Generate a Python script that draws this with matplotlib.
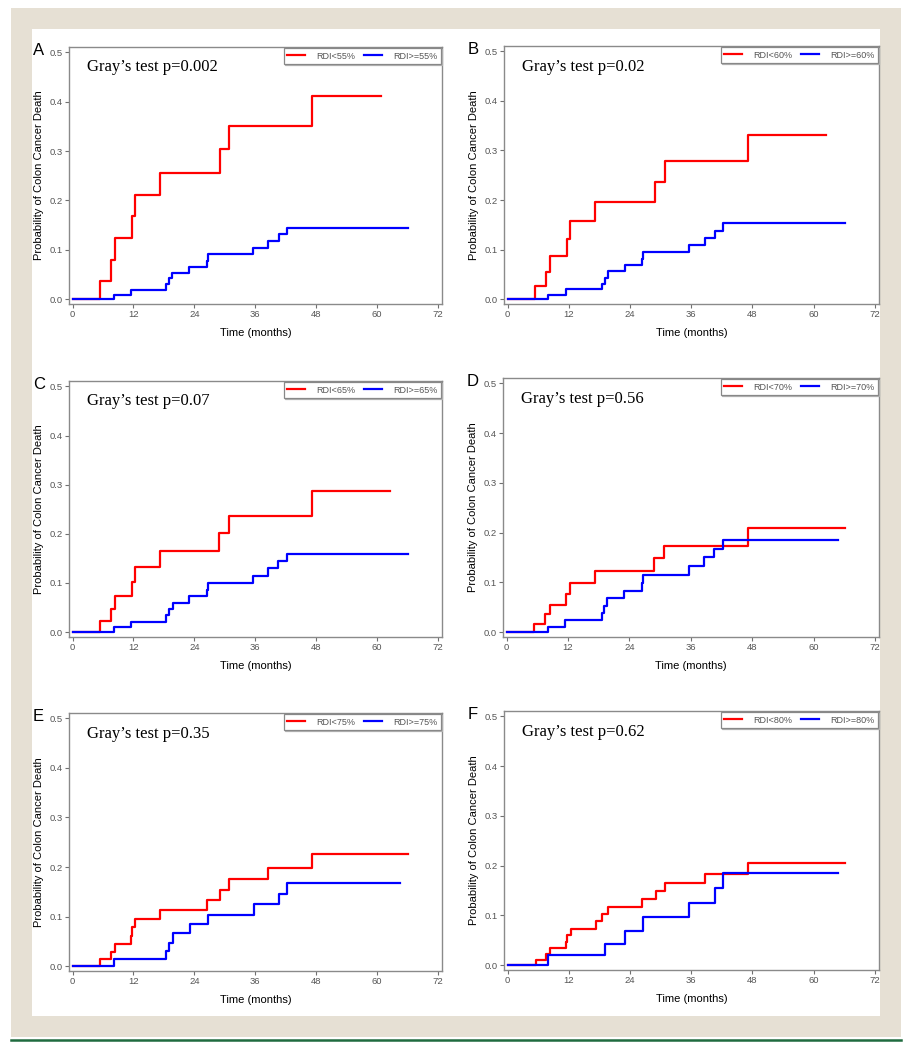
import matplotlib
matplotlib.use("Agg")
import matplotlib.pyplot as plt
from matplotlib.patches import Rectangle
from matplotlib.lines import Line2D

# time (months) at each step, cumulative incidence after the step; last entry = end of follow-up
a_red_t = [0, 5.5, 7.5, 8.4, 11.8, 12.4, 17.3, 29.0, 30.8, 47.1, 60.8]
a_red_p = [0, 0.036, 0.080, 0.124, 0.168, 0.211, 0.256, 0.304, 0.351, 0.411, 0.411]
a_blue_t = [0, 8.1, 11.6, 18.5, 19.0, 19.6, 23.0, 26.5, 26.6, 35.6, 38.6, 40.6, 42.3, 66.1]
a_blue_p = [0, 0.008, 0.019, 0.030, 0.042, 0.053, 0.064, 0.078, 0.091, 0.103, 0.117, 0.131, 0.145, 0.145]

b_red_t = [0, 5.4, 7.5, 8.3, 11.7, 12.3, 17.2, 28.9, 30.8, 47.2, 62.5]
b_red_p = [0, 0.026, 0.055, 0.087, 0.122, 0.158, 0.196, 0.237, 0.278, 0.331, 0.331]
b_blue_t = [0, 8.0, 11.5, 18.5, 19.0, 19.7, 23.0, 26.4, 26.6, 35.6, 38.6, 40.6, 42.3, 66.1]
b_blue_p = [0, 0.009, 0.020, 0.031, 0.043, 0.056, 0.069, 0.081, 0.095, 0.110, 0.124, 0.138, 0.153, 0.153]

c_red_t = [0, 5.5, 7.5, 8.4, 11.8, 12.4, 17.3, 28.9, 30.9, 47.1, 62.5]
c_red_p = [0, 0.022, 0.047, 0.073, 0.102, 0.132, 0.165, 0.201, 0.236, 0.288, 0.288]
c_blue_t = [0, 8.1, 11.5, 18.5, 19.1, 19.7, 23.0, 26.4, 26.6, 35.6, 38.6, 40.5, 42.3, 66.1]
c_blue_p = [0, 0.011, 0.021, 0.034, 0.047, 0.059, 0.073, 0.086, 0.100, 0.115, 0.130, 0.145, 0.159, 0.159]

d_red_t = [0, 5.4, 7.5, 8.4, 11.7, 12.3, 17.2, 28.9, 30.8, 47.2, 66.2]
d_red_p = [0, 0.017, 0.036, 0.055, 0.076, 0.098, 0.123, 0.148, 0.174, 0.209, 0.209]
d_blue_t = [0, 8.0, 11.5, 18.6, 19.1, 19.7, 23.0, 26.4, 26.6, 35.6, 38.6, 40.6, 42.3, 64.7]
d_blue_p = [0, 0.011, 0.025, 0.039, 0.053, 0.068, 0.083, 0.099, 0.114, 0.132, 0.150, 0.168, 0.185, 0.185]

e_red_t = [0, 5.5, 7.5, 8.4, 11.5, 11.8, 12.4, 17.3, 26.5, 29.0, 30.9, 38.5, 47.2, 66.1]
e_red_p = [0, 0.014, 0.028, 0.044, 0.061, 0.078, 0.094, 0.113, 0.133, 0.153, 0.175, 0.199, 0.226, 0.226]
e_blue_t = [0, 8.1, 18.5, 19.0, 19.7, 23.1, 26.7, 35.7, 40.6, 42.3, 64.6]
e_blue_p = [0, 0.015, 0.030, 0.047, 0.066, 0.085, 0.104, 0.125, 0.146, 0.167, 0.167]

f_red_t = [0, 5.5, 7.5, 8.3, 11.5, 11.7, 12.4, 17.3, 18.6, 19.7, 26.4, 29.0, 30.8, 38.7, 47.2, 66.2]
f_red_p = [0, 0.010, 0.022, 0.035, 0.047, 0.060, 0.073, 0.088, 0.102, 0.116, 0.133, 0.149, 0.165, 0.183, 0.205, 0.205]
f_blue_t = [0, 8.0, 19.1, 23.0, 26.6, 35.6, 40.6, 42.3, 64.7]
f_blue_p = [0, 0.020, 0.043, 0.069, 0.096, 0.125, 0.154, 0.186, 0.186]

letters = ["A", "B", "C", "D", "E", "F"]
cutoffs = [55, 60, 65, 70, 75, 80]
p_values = ["0.002", "0.02", "0.07", "0.56", "0.35", "0.62"]
x_ticks = [0, 12, 24, 36, 48, 60, 72]
y_ticks = [0.0, 0.1, 0.2, 0.3, 0.4, 0.5]

curves = [
    (a_red_t, a_red_p, a_blue_t, a_blue_p),
    (b_red_t, b_red_p, b_blue_t, b_blue_p),
    (c_red_t, c_red_p, c_blue_t, c_blue_p),
    (d_red_t, d_red_p, d_blue_t, d_blue_p),
    (e_red_t, e_red_p, e_blue_t, e_blue_p),
    (f_red_t, f_red_p, f_blue_t, f_blue_p),
]

W, H = 913, 1050
fig = plt.figure(figsize=(W / 100, H / 100), dpi=100)
fig.patch.set_facecolor("white")

def px_rect(x0, y0, x1, y1, color, z=-10):
    r = Rectangle((x0 / W, 1 - y1 / H), (x1 - x0) / W, (y1 - y0) / H,
                  transform=fig.transFigure, facecolor=color, edgecolor="none", zorder=z)
    fig.patches.append(r)

# page frame
px_rect(11, 8, 901, 1037, "#e6e0d4", -20)
px_rect(32, 29, 880, 1016, "white", -15)
fig.lines.append(Line2D([11 / W, 901 / W], [1 - 1039.5 / H] * 2, transform=fig.transFigure,
                        color="#1f6b3f", lw=1.8, zorder=-10))

# axes boxes in pixels: left, top, right, bottom
boxes = [
    (69, 47, 442, 304), (504, 46, 879, 304),
    (69, 381, 442, 637), (503, 378, 879, 637),
    (69, 713, 442, 971), (504, 711, 879, 970),
]

sans = "Liberation Sans"
gray = "#707070"

for i, (l, t, r, b) in enumerate(boxes):
    ax = fig.add_axes([l / W, 1 - b / H, (r - l) / W, (b - t) / H])
    rt, rp, bt, bp = curves[i]
    ax.step(rt, rp, where="post", color="#ff0000", lw=1.6, label=f"RDI<{cutoffs[i]}%")
    ax.step(bt, bp, where="post", color="#0000ff", lw=1.6, label=f"RDI>={cutoffs[i]}%")
    ax.set_xlim(-0.7, 72.8)
    ax.set_ylim(-0.01, 0.511)
    ax.set_xticks(x_ticks)
    ax.set_yticks(y_ticks)
    ax.set_yticklabels([f"{v:.1f}" for v in y_ticks])
    ax.tick_params(length=3, width=0.8, color=gray, labelsize=6.8, labelcolor="#555555", pad=1.5)
    for lab in ax.get_xticklabels() + ax.get_yticklabels():
        lab.set_fontfamily(sans)
    for s in ax.spines.values():
        s.set_color("#8a8a8a")
        s.set_linewidth(1.0)
    ax.set_xlabel("Time (months)", fontsize=8, family=sans, labelpad=6)
    ax.set_ylabel("Probability of Colon Cancer Death", fontsize=8, family=sans, labelpad=4)
    ax.text(0.047, 0.905, f"Gray\u2019s test p={p_values[i]}", transform=ax.transAxes,
            family="Liberation Serif", fontsize=12, va="baseline", ha="left")
    leg = ax.legend(loc="upper right", ncol=2, frameon=True, fancybox=False,
                    borderaxespad=0.15, handlelength=2.0, columnspacing=1.0, handletextpad=1.2,
                    borderpad=0.35, prop={"family": sans, "size": 6.5},
                    shadow={"color": "0.7", "alpha": 1.0, "ox": 0.8, "oy": -0.8})
    leg.get_frame().set_edgecolor("#888888")
    leg.get_frame().set_linewidth(0.9)
    for txt in leg.get_texts():
        txt.set_color("#555555")
    fig.text((l - 36) / W, 1 - (t - 4) / H, letters[i], fontsize=12, family=sans,
             va="top", ha="left")

fig.savefig("out.png", dpi=100)
